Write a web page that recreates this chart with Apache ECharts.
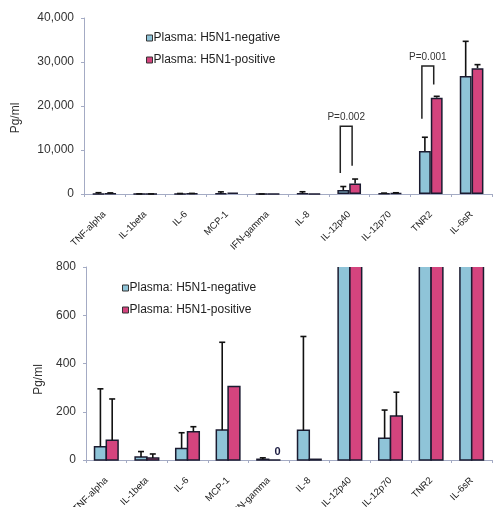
<!DOCTYPE html>
<html>
<head>
<meta charset="utf-8">
<script src="https://cdn.jsdelivr.net/npm/echarts@6/dist/echarts.min.js"></script>
<style>
html,body{margin:0;padding:0;background:#fff;}
#chart{width:494px;height:507px;}
</style>
</head>
<body>
<div id="chart"></div>
<script>
// ---- data ----
var categories = ['TNF-alpha','IL-1beta','IL-6','MCP-1','IFN-gamma','IL-8','IL-12p40','IL-12p70','TNR2','IL-6sR'];
var negName = 'Plasma: H5N1-negative';
var posName = 'Plasma: H5N1-positive';
var negMean  = [55, 12, 48, 124, 3, 123, 900, 90, 9800, 26800];
var negUpper = [295, 35, 113, 488, 9, 512, 1700, 207, 12900, 34700];
var posMean  = [82, 8, 117, 305, 0, 3, 2400, 182, 21900, 28600];
var posUpper = [253, 25, 138, null, null, null, 3400, 281, 22200, 29400];
var topTicks = [0, 10000, 20000, 30000, 40000];
var bottomTicks = [0, 200, 400, 600, 800];
// significance brackets
var bracketCats = ['IL-12p40', 'TNR2'];
var bracketLeft = [4800, 17100];
var bracketRight = [6400, 24900];
var bracketTop = [15400, 29100];
var bracketText = ['P=0.002', 'P=0.001'];

// ---- style ----
var BAR_FRAC = 0.29;
var NEG_COLOR = '#8fc4d8';
var POS_COLOR = '#d4447e';
var EDGE = '#1b1b30';
var FONT = 'Liberation Sans, Arial, sans-serif';
var AXIS_COLOR = '#a4abc4';

function errData(mean, upper) {
  var out = [];
  for (var i = 0; i < mean.length; i++) {
    if (upper[i] != null) out.push([i, mean[i], upper[i]]);
  }
  return out;
}
function clipOf(params) {
  var cs = params.coordSys;
  return {type: 'rect', shape: {x: cs.x - 2, y: cs.y, width: cs.width + 4, height: cs.height + 2}};
}
function errRender(sign) {
  return function (params, api) {
    var idx = api.value(0);
    var base = api.coord([idx, api.value(1)]);
    var top = api.coord([idx, api.value(2)]);
    var band = api.size([1, 0])[0];
    var x = base[0] + sign * band * BAR_FRAC / 2;
    return {
      type: 'group',
      clipPath: clipOf(params),
      children: [
        {type: 'line', shape: {x1: x, y1: base[1], x2: x, y2: top[1]}, style: {stroke: '#111', lineWidth: 1.6}},
        {type: 'line', shape: {x1: x - 3, y1: top[1], x2: x + 3, y2: top[1]}, style: {stroke: '#111', lineWidth: 1.6}}
      ]
    };
  };
}
function barRender(sign, color) {
  return function (params, api) {
    var idx = api.value(0), val = api.value(1);
    var p0 = api.coord([idx, 0]);
    var p1 = api.coord([idx, val]);
    var band = api.size([1, 0])[0];
    var w = band * BAR_FRAC;
    var x = sign < 0 ? p0[0] - w : p0[0];
    var children = [{type: 'rect', shape: {x: x, y: p1[1], width: w, height: p0[1] - p1[1]},
      style: {fill: color, stroke: EDGE, lineWidth: 1.5}}];
    if (val === 0) {
      children.push({type: 'text', style: {text: '0', x: x + w / 2 + 3, y: p0[1] - 3, align: 'center',
        verticalAlign: 'bottom', fill: '#1b1b40', font: 'bold 11px ' + FONT}});
    }
    return {type: 'group', clipPath: clipOf(params), children: children};
  };
}
function bracketRender(params, api) {
  var cat = api.value(0);
  var ct = api.coord([cat, api.value(3)]);
  var cl = api.coord([cat, api.value(1)]);
  var cr = api.coord([cat, api.value(2)]);
  var band = api.size([1, 0])[0];
  var xl = ct[0] - band * BAR_FRAC / 2 - 3;
  var xr = ct[0] + band * BAR_FRAC / 2 - 3;
  return {
    type: 'group',
    children: [
      {type: 'polyline', shape: {points: [[xl, cl[1]], [xl, ct[1]], [xr, ct[1]], [xr, cr[1]]]},
        style: {stroke: '#222', lineWidth: 1.5, fill: null}},
      {type: 'text', style: {text: bracketText[params.dataIndex], x: (xl + xr) / 2, y: ct[1] - 4,
        align: 'center', verticalAlign: 'bottom', fill: '#333', font: '10px ' + FONT}}
    ]
  };
}
var bracketData = bracketCats.map(function (c, i) {
  return [categories.indexOf(c), bracketLeft[i], bracketRight[i], bracketTop[i]];
});

function xAxisCfg(gi) {
  return {
    type: 'category', gridIndex: gi, data: categories,
    axisLine: {lineStyle: {color: AXIS_COLOR, width: 1}},
    axisTick: {show: true, length: 3, lineStyle: {color: AXIS_COLOR}},
    axisLabel: {rotate: 45, fontSize: 9.5, color: '#1a1a1a', fontFamily: FONT, margin: 19, interval: 0}
  };
}
function yAxisCfg(gi, ticks, nameGap, namePad, fmt) {
  return {
    type: 'value', gridIndex: gi, min: ticks[0], max: ticks[ticks.length - 1],
    interval: ticks[1] - ticks[0],
    name: 'Pg/ml', nameLocation: 'middle', nameGap: nameGap, nameRotate: 90,
    nameTextStyle: {fontSize: 12, color: '#333', fontFamily: FONT, padding: [0, namePad, 0, 0]},
    axisLine: {show: true, lineStyle: {color: AXIS_COLOR, width: 1}},
    axisTick: {show: true, length: 3, lineStyle: {color: AXIS_COLOR}},
    splitLine: {show: false},
    axisLabel: {fontSize: 12, color: '#333', fontFamily: FONT, margin: 10, formatter: fmt}
  };
}
function barSeries(name, data, color) {
  return {
    name: name, type: 'bar', xAxisIndex: 0, yAxisIndex: 0, data: data,
    barWidth: (BAR_FRAC * 100) + '%', barGap: '0%',
    itemStyle: {color: color, borderColor: EDGE, borderWidth: 1.5},
    emphasis: {disabled: true}
  };
}
function legendCfg(left, top) {
  return {
    left: left, top: top, orient: 'vertical', itemWidth: 6, itemHeight: 6, itemGap: 10,
    icon: 'rect', data: [negName, posName],
    textStyle: {fontSize: 12, color: '#222', fontFamily: FONT, padding: [0, 0, 0, -4]},
    itemStyle: {borderColor: '#333', borderWidth: 1}
  };
}

var option = {
  animation: false,
  backgroundColor: '#fff',
  grid: [
    {left: 84, right: 2, top: 18, bottom: 313, outerBoundsMode: 'none', containLabel: false},
    {left: 86, right: 2, top: 267, bottom: 47, outerBoundsMode: 'none', containLabel: false}
  ],
  legend: [legendCfg(141, 27), legendCfg(117, 277)],
  xAxis: [xAxisCfg(0), xAxisCfg(1)],
  yAxis: [
    yAxisCfg(0, topTicks, 62, 24, function (v) { return v.toLocaleString('en-US'); }),
    yAxisCfg(1, bottomTicks, 40, 32, function (v) { return String(v); })
  ],
  series: [
    barSeries(negName, negMean, NEG_COLOR),
    barSeries(posName, posMean, POS_COLOR),
    {name: negName, type: 'custom', xAxisIndex: 1, yAxisIndex: 1, renderItem: barRender(-1, NEG_COLOR),
      itemStyle: {color: NEG_COLOR}, data: negMean.map(function (v, i) { return [i, v]; }), silent: true},
    {name: posName, type: 'custom', xAxisIndex: 1, yAxisIndex: 1, renderItem: barRender(1, POS_COLOR),
      itemStyle: {color: POS_COLOR}, data: posMean.map(function (v, i) { return [i, v]; }), silent: true},
    {type: 'custom', xAxisIndex: 0, yAxisIndex: 0, renderItem: errRender(-1), data: errData(negMean, negUpper), z: 3, silent: true},
    {type: 'custom', xAxisIndex: 0, yAxisIndex: 0, renderItem: errRender(1), data: errData(posMean, posUpper), z: 3, silent: true},
    {type: 'custom', xAxisIndex: 1, yAxisIndex: 1, renderItem: errRender(-1), data: errData(negMean, negUpper), z: 3, silent: true},
    {type: 'custom', xAxisIndex: 1, yAxisIndex: 1, renderItem: errRender(1), data: errData(posMean, posUpper), z: 3, silent: true},
    {type: 'custom', xAxisIndex: 0, yAxisIndex: 0, renderItem: bracketRender, data: bracketData, z: 4, silent: true}
  ]
};
var chart = echarts.init(document.getElementById('chart'), null, {renderer: 'canvas'});
chart.setOption(option);
</script>
</body>
</html>
